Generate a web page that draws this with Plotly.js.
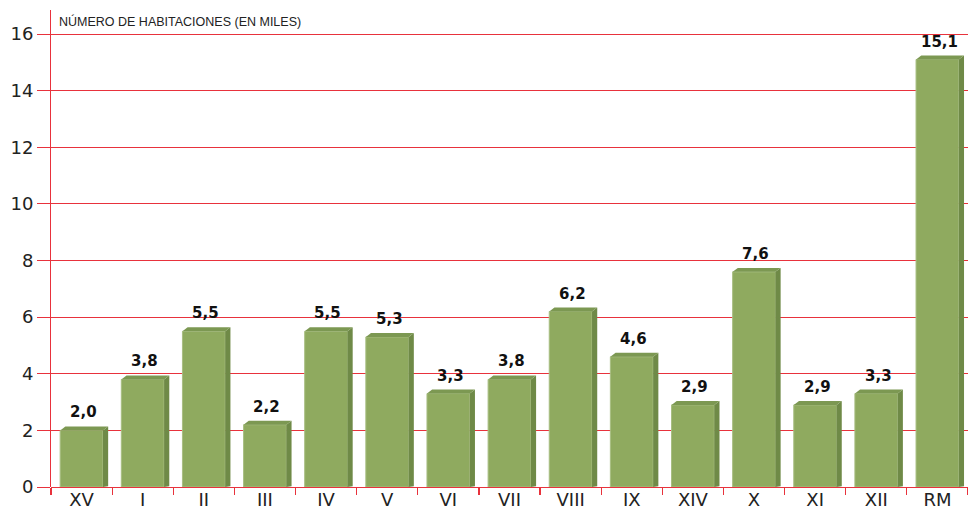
<!DOCTYPE html>
<html>
<head>
<meta charset="utf-8">
<script src="https://cdn.plot.ly/plotly-3.0.1.min.js"></script>
<style>html,body{margin:0;padding:0;background:#fff;}#chart{width:968px;height:526px;}</style>
</head>
<body>
<div id="chart"></div>
<script>
const categories = ['XV','I','II','III','IV','V','VI','VII','VIII','IX','XIV','X','XI','XII','RM'];
const values = [2.0,3.8,5.5,2.2,5.5,5.3,3.3,3.8,6.2,4.6,2.9,7.6,2.9,3.3,15.1];
const yTicks = [0,2,4,6,8,10,12,14,16];
const axisTitle = 'NÚMERO DE HABITACIONES (EN MILES)';

const FRONT = '#8FAA5F', SIDE = '#6F8A47', TOP = '#7C9852', RED = '#E8323C';
const HALF = 0.35, DX = 0.085, DY = 0.14;

const shapes = [];
values.forEach((v, i) => {
  const xl = i - HALF, xr = i + HALF;
  shapes.push({type:'path', xref:'x', yref:'y', layer:'above', line:{width:0}, fillcolor:SIDE,
    path:`M ${xr},0 L ${xr+DX},${DY*0.2} L ${xr+DX},${v+DY} L ${xr},${v} Z`});
  shapes.push({type:'path', xref:'x', yref:'y', layer:'above', line:{width:0}, fillcolor:TOP,
    path:`M ${xl},${v} L ${xl+DX},${v+DY} L ${xr+DX},${v+DY} L ${xr},${v} Z`});
});

const annotations = values.map((v, i) => ({
  x: i + 0.03, y: v + DY, xref:'x', yref:'y', text: '<b>' + v.toFixed(1).replace('.', ',') + '</b>',
  showarrow:false, yanchor:'bottom', yshift:3, font:{family:'DejaVu Sans', size:15, color:'#111'}
}));
annotations.push({xref:'paper', yref:'paper', x:0.006, y:1.0, xanchor:'left', yanchor:'top', yshift:-2,
  text: axisTitle, showarrow:false, font:{family:'Liberation Sans', size:12.5, color:'#222'}});

const trace = {
  type:'bar', x: categories, y: values, width: 2*HALF,
  marker:{color:FRONT, line:{color:'#A8BE82', width:1}},
  hoverinfo:'none'
};

const layout = {
  width:968, height:526,
  margin:{l:51, r:0, t:10, b:39},
  paper_bgcolor:'#fff', plot_bgcolor:'#fff',
  showlegend:false,
  xaxis:{type:'category', tickson:'boundaries', ticks:'outside', ticklen:7, tickcolor:RED, tickwidth:1.2,
    showgrid:false, showline:false, zeroline:false, range:[-0.5, categories.length-0.5],
    tickfont:{family:'DejaVu Sans', size:18, color:'#222'}},
  yaxis:{range:[0,16.85], tickvals:yTicks, ticks:'outside', ticklen:13, tickcolor:RED, tickwidth:1,
    showgrid:true, gridcolor:RED, gridwidth:1, showline:true, linecolor:RED, linewidth:1,
    zeroline:true, zerolinecolor:RED, zerolinewidth:1,
    tickfont:{family:'DejaVu Sans', size:18, color:'#222'}},
  shapes: shapes,
  annotations: annotations,
  bargap:0.3
};

Plotly.newPlot('chart', [trace], layout, {displayModeBar:false, staticPlot:true});
</script>
</body>
</html>
